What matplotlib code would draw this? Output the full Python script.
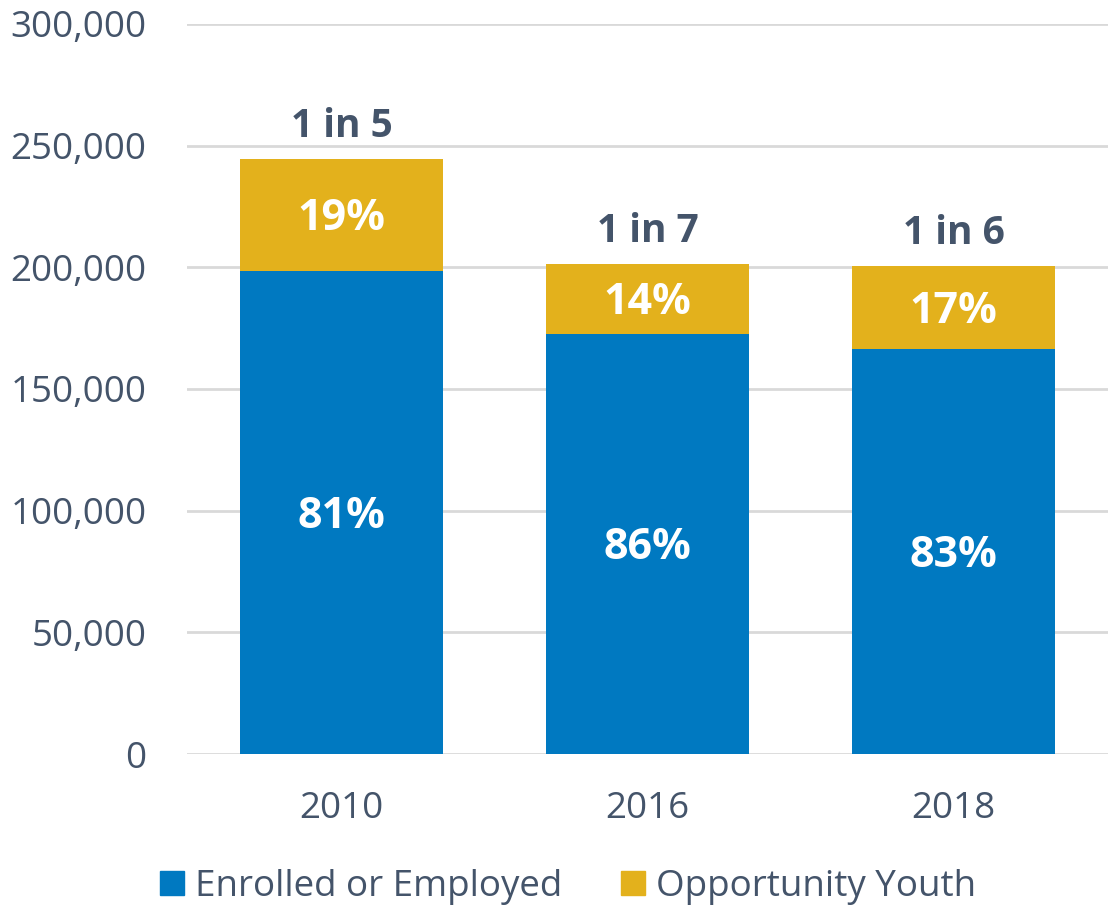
import numpy as np
import matplotlib.pyplot as plt
from matplotlib.ticker import FuncFormatter
from matplotlib.patches import Patch

plt.rcParams['font.family'] = ['Open Sans', 'DejaVu Sans']

# data
years = ['2010', '2016', '2018']
enrolled = [198500, 172600, 166500]
opportunity = [46000, 28800, 34100]
pct_enrolled = ['81%', '86%', '83%']
pct_opp = ['19%', '14%', '17%']
ratio_labels = ['1 in 5', '1 in 7', '1 in 6']

blue = '#0079C1'
gold = '#E3B11C'
txt = '#44546A'

fig = plt.figure(figsize=(11.08, 9.05), dpi=100)
ax = fig.add_axes([187/1108, 1-754/905, (1108-187)/1108, (754-24)/905])

x = np.arange(len(years))
w = 0.665
ax.bar(x, enrolled, w, color=blue, zorder=3)
ax.bar(x, opportunity, w, bottom=enrolled, color=gold, zorder=3)

pct_size = 31
cap = 0.714 * pct_size / 2
for i in range(len(years)):
    ax.annotate(pct_enrolled[i], (x[i], enrolled[i]/2), xytext=(0, -cap), textcoords='offset points',
                ha='center', va='baseline', color='white', fontsize=pct_size, fontweight='bold', zorder=4)
    ax.annotate(pct_opp[i], (x[i], enrolled[i] + opportunity[i]/2), xytext=(0, -cap), textcoords='offset points',
                ha='center', va='baseline', color='white', fontsize=pct_size, fontweight='bold', zorder=4)
    ax.annotate(ratio_labels[i], (x[i], enrolled[i] + opportunity[i]), xytext=(0, 16), textcoords='offset points',
                ha='center', va='baseline', color=txt, fontsize=28, fontweight='bold', zorder=4)

ax.set_xlim(-0.505, 2.505)
ax.set_ylim(0, 300000)
ax.set_yticks(np.arange(0, 300001, 50000))
ax.yaxis.set_major_formatter(FuncFormatter(lambda v, p: f'{int(v):,}'))
ax.set_xticks(x)
ax.set_xticklabels(years)
ax.tick_params(axis='both', length=0, labelsize=26.5, labelcolor=txt)
ax.tick_params(axis='y', pad=29)
ax.tick_params(axis='x', pad=27)
ax.grid(axis='y', color='#D9D9D9', linewidth=2, zorder=0)
for s in ax.spines.values():
    s.set_visible(False)

handles = [Patch(color=blue, label='Enrolled or Employed'),
           Patch(color=gold, label='Opportunity Youth')]
fig.legend(handles=handles, loc='center', bbox_to_anchor=(568/1108, 1-887/905), ncol=2,
           frameon=False, fontsize=26.5, labelcolor=txt, handlelength=0.66, handleheight=0.66,
           handletextpad=0.3, columnspacing=1.6, borderpad=0, borderaxespad=0)

fig.savefig('out.png', dpi=100)
